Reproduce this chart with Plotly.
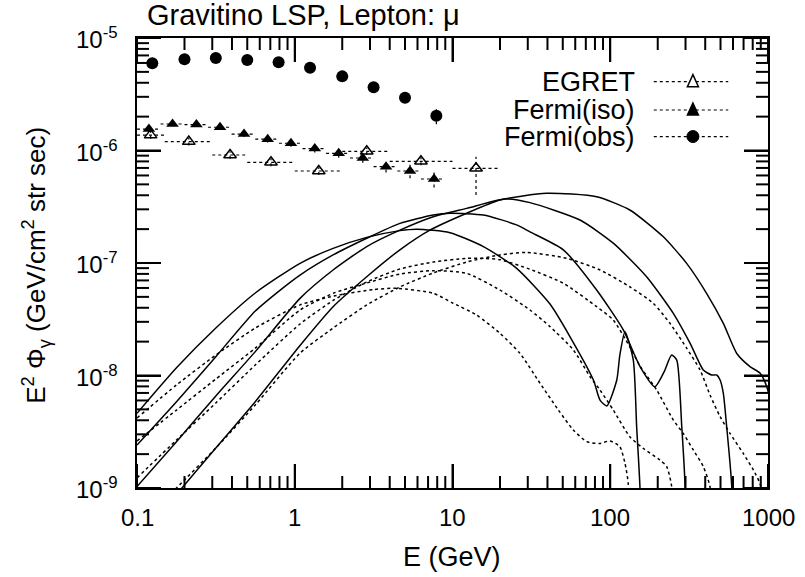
import math
import plotly.graph_objects as go

# ---------------- data ----------------
# Fermi(obs)
fobs_E = [0.125, 0.2, 0.316, 0.5, 0.79, 1.25, 2.0, 3.16, 5.0, 7.9]
fobs_F = [5.96e-6, 6.46e-6, 6.64e-6, 6.37e-6, 6.08e-6, 5.45e-6, 4.56e-6, 3.65e-6, 2.95e-6, 2.04e-6]
fobs_dF = [0.15e-6, 0.15e-6, 0.15e-6, 0.15e-6, 0.2e-6, 0.2e-6, 0.2e-6, 0.2e-6, 0.3e-6, 0.33e-6]

# Fermi(iso)
fiso_E = [0.119, 0.168, 0.238, 0.336, 0.477, 0.674, 0.946, 1.34, 1.90, 2.70, 3.79, 5.38, 7.64]
fiso_Elo = [0.1, 0.141, 0.2, 0.282, 0.398, 0.562, 0.794, 1.12, 1.58, 2.24, 3.16, 4.47, 6.31]
fiso_Ehi = [0.141, 0.2, 0.282, 0.398, 0.562, 0.794, 1.12, 1.58, 2.24, 3.16, 4.47, 6.31, 8.91]
fiso_F = [1.55e-6, 1.72e-6, 1.70e-6, 1.61e-6, 1.40e-6, 1.26e-6, 1.16e-6, 1.04e-6,
          9.44e-7, 8.58e-7, 7.18e-7, 6.57e-7, 5.58e-7]
fiso_dF = [0.08e-6, 0.08e-6, 0.08e-6, 0.08e-6, 0.08e-6, 0.08e-6, 0.08e-6, 0.08e-6,
           0.08e-6, 0.08e-6, 0.08e-6, 0.09e-6, 0.09e-6]

# EGRET
egret_E = [0.122, 0.213, 0.389, 0.707, 1.42, 2.86, 6.31, 14.1]
egret_Elo = [0.1, 0.15, 0.3, 0.5, 1.0, 2.0, 4.0, 10.0]
egret_Ehi = [0.15, 0.3, 0.5, 1.0, 2.0, 4.0, 10.0, 20.0]
egret_F = [1.37e-6, 1.20e-6, 9.12e-7, 7.85e-7, 6.57e-7, 9.84e-7, 8.02e-7, 6.95e-7]
egret_Flo = [1.27e-6, 1.11e-6, 8.45e-7, 7.25e-7, 6.05e-7, 9.1e-7, 7.4e-7, 4.02e-7]
egret_Fhi = [1.48e-6, 1.30e-6, 9.85e-7, 8.5e-7, 7.1e-7, 1.06e-6, 8.7e-7, 8.81e-7]

# model curves: solid (4 masses) and dashed (4 masses)
s1_E = [0.1, 0.178, 0.316, 0.562, 1.08, 1.75, 2.86, 4.64, 5.93, 9.64, 15.7, 25.5, 41.5, 55.6,
        78.2, 86.1, 95.1, 110, 115, 124, 140, 147, 154.5, 156]
s1_F = [4.61e-9, 1.17e-8, 2.64e-8, 5.41e-8, 9.93e-8, 1.35e-7, 1.69e-7, 1.94e-7, 2.0e-7, 1.86e-7,
        1.40e-7, 8.97e-8, 4.32e-8, 2.21e-8, 9.12e-9, 6.05e-9, 5.36e-9, 9.12e-9, 1.52e-8, 2.45e-8,
        1.37e-8, 3.51e-9, 9.6e-10, 1e-10]

s2_E = [0.1, 0.178, 0.316, 0.562, 0.809, 1.08, 1.75, 2.86, 4.64, 7.55, 9.64, 15.7, 25.5, 31.0,
        50.4, 82.0, 121, 154.5, 192, 219, 245, 264, 284, 298, 300]
s2_F = [2.41e-9, 5.85e-9, 1.47e-8, 3.74e-8, 5.75e-8, 7.82e-8, 1.18e-7, 1.66e-7, 2.25e-7, 2.67e-7,
        2.77e-7, 2.67e-7, 2.18e-7, 1.89e-7, 1.31e-7, 5.75e-8, 2.54e-8, 1.20e-8, 7.94e-9, 1.07e-8,
        1.52e-8, 1.37e-8, 3.51e-9, 1.03e-9, 1e-10]

s3_E = [0.1, 0.178, 0.316, 0.562, 1.08, 1.75, 2.86, 4.64, 7.55, 12.3, 21.5, 31.0, 64.3, 104.5,
        170, 251, 321, 389, 440, 473, 497, 521, 547, 589, 595]
s3_F = [1.03e-9, 2.58e-9, 6.58e-9, 1.63e-8, 4.85e-8, 8.67e-8, 1.40e-7, 1.96e-7, 2.58e-7, 3.06e-7,
        3.71e-7, 3.44e-7, 2.41e-7, 1.50e-7, 7.55e-8, 3.57e-8, 1.93e-8, 1.12e-8, 1.01e-8, 1.01e-8,
        9.12e-9, 6.95e-9, 3.51e-9, 1.03e-9, 1e-10]

s4_E = [0.1, 0.188, 0.316, 0.562, 1.08, 1.75, 2.86, 4.64, 7.19, 12.3, 20.0, 39.5, 82.0, 133,
        217, 305, 408, 521, 634, 769, 889, 982, 1100]
s4_F = [3.4e-10, 9.6e-10, 2.27e-9, 5.85e-9, 1.85e-8, 4.09e-8, 7.55e-8, 1.31e-7, 1.96e-7, 2.77e-7,
        3.63e-7, 4.17e-7, 3.88e-7, 2.96e-7, 1.71e-7, 9.93e-8, 5.38e-8, 2.91e-8, 1.57e-8, 1.20e-8,
        1.05e-8, 7.94e-9, 4.0e-9]

d1_E = [0.1, 0.178, 0.316, 0.562, 1.08, 1.77, 3.16, 4.44, 7.55, 10.1, 14.2, 20.0, 26.8, 35.9,
        46.9, 58.3, 71.0, 86.1, 99.5, 115, 124, 130, 132]
d1_F = [4.19e-9, 8.24e-9, 1.52e-8, 2.64e-8, 4.24e-8, 5.09e-8, 5.81e-8, 5.96e-8, 5.38e-8, 4.39e-8,
        3.45e-8, 2.37e-8, 1.57e-8, 8.53e-9, 4.93e-9, 3.28e-9, 2.58e-9, 2.49e-9, 2.62e-9, 2.33e-9,
        1.66e-9, 1.10e-9, 2e-10]

d2_E = [0.1, 0.178, 0.316, 0.562, 1.08, 1.77, 2.86, 4.64, 7.55, 12.3, 20.0, 31.0, 41.5, 58.3,
        74.5, 86.1, 104.5, 133, 162, 207, 228, 245, 248]
d2_F = [2.62e-9, 4.93e-9, 9.31e-9, 1.75e-8, 3.82e-8, 5.41e-8, 6.64e-8, 7.98e-8, 8.55e-8, 8.09e-8,
        5.75e-8, 3.82e-8, 2.72e-8, 1.69e-8, 9.75e-9, 7.43e-9, 4.93e-9, 2.86e-9, 2.25e-9, 1.77e-9,
        1.55e-9, 1.03e-9, 2e-10]

d3_E = [0.1, 0.178, 0.316, 0.562, 1.08, 1.77, 2.86, 4.64, 7.55, 12.3, 15.7, 20.0, 31.0, 50.4,
        82.0, 104.5, 133, 154.5, 197, 251, 290, 336, 389, 429, 436]
d3_F = [1.23e-9, 2.67e-9, 5.70e-9, 1.24e-8, 2.87e-8, 4.69e-8, 6.78e-8, 8.85e-8, 1.02e-7, 1.10e-7,
        1.10e-7, 1.07e-7, 8.79e-8, 6.61e-8, 4.09e-8, 3.11e-8, 1.80e-8, 1.21e-8, 7.43e-9, 4.02e-9,
        3.06e-9, 2.18e-9, 1.55e-9, 1.02e-9, 2e-10]

d4_E = [0.1, 0.178, 0.316, 0.562, 1.08, 1.75, 2.86, 4.64, 7.55, 12.3, 20.0, 29.5, 53.0, 86.1,
        133, 187, 239, 305, 371, 429, 497, 574, 697, 807, 889, 944]
d4_F = [4.5e-10, 1.0e-9, 2.27e-9, 5.47e-9, 1.58e-8, 2.64e-8, 4.24e-8, 6.12e-8, 8.15e-8, 1.02e-7,
        1.18e-7, 1.24e-7, 1.10e-7, 8.67e-8, 6.15e-8, 4.39e-8, 2.91e-8, 1.75e-8, 1.12e-8, 6.71e-9,
        4.31e-9, 3.06e-9, 2.03e-9, 1.45e-9, 1.10e-9, 7.8e-10]

x_tickvals = [0.1, 1, 10, 100, 1000]
x_ticktext = ["0.1", "1", "10", "100", "1000"]
y_tickvals = [1e-9, 1e-8, 1e-7, 1e-6, 1e-5]
y_ticktext = ["10<sup>-9</sup>", "10<sup>-8</sup>", "10<sup>-7</sup>", "10<sup>-6</sup>", "10<sup>-5</sup>"]

legend_names = ["EGRET", "Fermi(iso)", "Fermi(obs)"]
legend_keys = ["open_triangle", "triangle", "circle"]

title_text = "Gravitino LSP, Lepton: \u03bc"
xlabel = "E (GeV)"
ylabel = "E<sup>2</sup> \u03a6<sub>\u03b3</sub> (GeV/cm<sup>2</sup> str sec)"

# ---------------- figure ----------------
FONT = "Liberation Sans, Arial, Helvetica, sans-serif"
DASH = "3px,3px"
W, H = 805, 577
ML, MR, MT, MB = 137, 37, 38, 89
PW, PH = W - ML - MR, H - MT - MB
XR = (-1.0, 3.0)   # log10 range of x axis
YR = (-9.0, -5.0)  # log10 range of y axis
XPX = PW / (XR[1] - XR[0])   # pixels per decade (x)
YPX = PH / (YR[1] - YR[0])   # pixels per decade (y)
fig = go.Figure()


def hsegs(xlo, xhi, y):
    xs, ys = [], []
    for a, b, c in zip(xlo, xhi, y):
        xs += [a, b, None]
        ys += [c, c, None]
    return xs, ys


def vsegs(x, ylo, yhi):
    xs, ys = [], []
    for a, b, c in zip(x, ylo, yhi):
        xs += [a, a, None]
        ys += [b, c, None]
    return xs, ys


for E, F in [(s1_E, s1_F), (s2_E, s2_F), (s3_E, s3_F), (s4_E, s4_F)]:
    fig.add_trace(go.Scatter(x=E, y=F, mode="lines",
                             line=dict(color="black", width=1.5, shape="spline", smoothing=0.6)))
for E, F in [(d1_E, d1_F), (d2_E, d2_F), (d3_E, d3_F), (d4_E, d4_F)]:
    fig.add_trace(go.Scatter(x=E, y=F, mode="lines",
                             line=dict(color="black", width=1.5, dash=DASH, shape="spline", smoothing=0.6)))

# error bars (dashed, as in the reference)
err_line = dict(color="black", width=1.2, dash=DASH)
xs, ys = hsegs(egret_Elo, egret_Ehi, egret_F)
fig.add_trace(go.Scatter(x=xs, y=ys, mode="lines", line=err_line))
xs, ys = vsegs(egret_E, egret_Flo, egret_Fhi)
fig.add_trace(go.Scatter(x=xs, y=ys, mode="lines", line=err_line))
xs, ys = hsegs(fiso_Elo, fiso_Ehi, fiso_F)
fig.add_trace(go.Scatter(x=xs, y=ys, mode="lines", line=err_line))
xs, ys = vsegs(fiso_E, [f - d for f, d in zip(fiso_F, fiso_dF)], [f + d for f, d in zip(fiso_F, fiso_dF)])
fig.add_trace(go.Scatter(x=xs, y=ys, mode="lines", line=err_line))
xs, ys = vsegs(fobs_E, [f - d for f, d in zip(fobs_F, fobs_dF)], [f + d for f, d in zip(fobs_F, fobs_dF)])
fig.add_trace(go.Scatter(x=xs, y=ys, mode="lines", line=err_line))

fig.add_trace(go.Scatter(x=egret_E, y=egret_F, mode="markers",
                         marker=dict(symbol="triangle-up-open", size=11, color="black",
                                     line=dict(width=1.5, color="black"))))
fig.add_trace(go.Scatter(x=fiso_E, y=fiso_F, mode="markers",
                         marker=dict(symbol="triangle-up", size=11, color="black")))
fig.add_trace(go.Scatter(x=fobs_E, y=fobs_F, mode="markers",
                         marker=dict(symbol="circle", size=12, color="black")))

# ---- tick marks (inside, on all four sides), built from the tick values ----
minor_x = [m * 10.0 ** k for k in range(-1, 3) for m in range(2, 10)]
minor_y = [m * 10.0 ** k for k in range(-9, -5) for m in range(2, 10)]
xlo_v, xhi_v = 10 ** XR[0], 10 ** XR[1]
ylo_v, yhi_v = 10 ** YR[0], 10 ** YR[1]
tx, ty = [], []
for vals, length in [(x_tickvals, 24), (minor_x, 12)]:
    k = 10 ** (length / YPX)
    for v in vals:
        tx += [v, v, None, v, v, None]
        ty += [ylo_v, ylo_v * k, None, yhi_v, yhi_v / k, None]
for vals, length in [(y_tickvals, 24), (minor_y, 12)]:
    k = 10 ** (length / XPX)
    for v in vals:
        tx += [xlo_v, xlo_v * k, None, xhi_v, xhi_v / k, None]
        ty += [v, v, None, v, v, None]
fig.add_trace(go.Scatter(x=tx, y=ty, mode="lines", line=dict(color="black", width=2),
                         hoverinfo="skip", cliponaxis=False))

# legend (gnuplot style: text right-aligned, key on the right) -- drawn as paper shapes
leg_y = [0.903, 0.840, 0.781]
leg_text_x = 0.792
leg_line = (0.819, 0.937)
leg_mark_x = 0.881
for name, key, yy in zip(legend_names, legend_keys, leg_y):
    fig.add_annotation(x=leg_text_x, y=yy, xref="paper", yref="paper", text=name,
                       showarrow=False, xanchor="right", yanchor="middle",
                       font=dict(family=FONT, size=27, color="black"))
    fig.add_shape(type="line", xref="paper", yref="paper", x0=leg_line[0], x1=leg_line[1],
                  y0=yy, y1=yy, line=dict(color="black", width=1.2, dash=DASH))
    hx, hy = 6.0 / PW, 6.0 / PH
    if key == "circle":
        fig.add_shape(type="circle", xref="paper", yref="paper",
                      x0=leg_mark_x - hx, x1=leg_mark_x + hx, y0=yy - hy, y1=yy + hy,
                      fillcolor="black", line=dict(color="black", width=1))
    else:
        tx_, ty_ = 5.5 / PW, 5.0 / PH
        path = (f"M {leg_mark_x - tx_} {yy - ty_} L {leg_mark_x + tx_} {yy - ty_} "
                f"L {leg_mark_x} {yy + ty_ + 2.0 / PH} Z")
        fig.add_shape(type="path", xref="paper", yref="paper", path=path,
                      fillcolor="white" if key == "open_triangle" else "black",
                      line=dict(color="black", width=1.5))

# tick labels as annotations
for v, t in zip(x_tickvals, x_ticktext):
    fig.add_annotation(x=math.log10(v), y=-29.0 / PH, xref="x", yref="paper", text=t,
                       showarrow=False, xanchor="center", yanchor="middle",
                       font=dict(family=FONT, size=24, color="black"))
for v, t in zip(y_tickvals, y_ticktext):
    fig.add_annotation(x=-17.0 / PW, y=math.log10(v), xref="paper", yref="y", text=t,
                       showarrow=False, xanchor="right", yanchor="middle",
                       font=dict(family=FONT, size=24, color="black"))

fig.add_annotation(x=0.0127, y=1.051, xref="paper", yref="paper", text=title_text,
                   showarrow=False, xanchor="left", yanchor="middle",
                   font=dict(family=FONT, size=29, color="black"))
fig.add_annotation(x=0.499, y=-0.153, xref="paper", yref="paper", text=xlabel,
                   showarrow=False, xanchor="center", yanchor="middle",
                   font=dict(family=FONT, size=27, color="black"))
fig.add_annotation(x=-0.160, y=0.494, xref="paper", yref="paper", text=ylabel,
                   showarrow=False, xanchor="center", yanchor="middle", textangle=-90,
                   font=dict(family=FONT, size=26, color="black"))

# native inside ticks as well (same positions as the drawn ones)
axis_common = dict(type="log", showline=True, linewidth=2, linecolor="black", mirror="ticks",
                   ticks="inside", tickwidth=2, tickcolor="black", ticklen=24,
                   showgrid=False, zeroline=False, showticklabels=False, tickmode="array")
fig.update_layout(
    width=W, height=H, margin=dict(l=ML, r=MR, t=MT, b=MB),
    paper_bgcolor="white", plot_bgcolor="white", showlegend=False,
    xaxis=dict(range=list(XR), tickvals=x_tickvals, **axis_common),
    yaxis=dict(range=list(YR), tickvals=y_tickvals, **axis_common),
)

fig.write_html("out.html", config={"displayModeBar": False},
               post_script="document.body.style.margin='0';")
